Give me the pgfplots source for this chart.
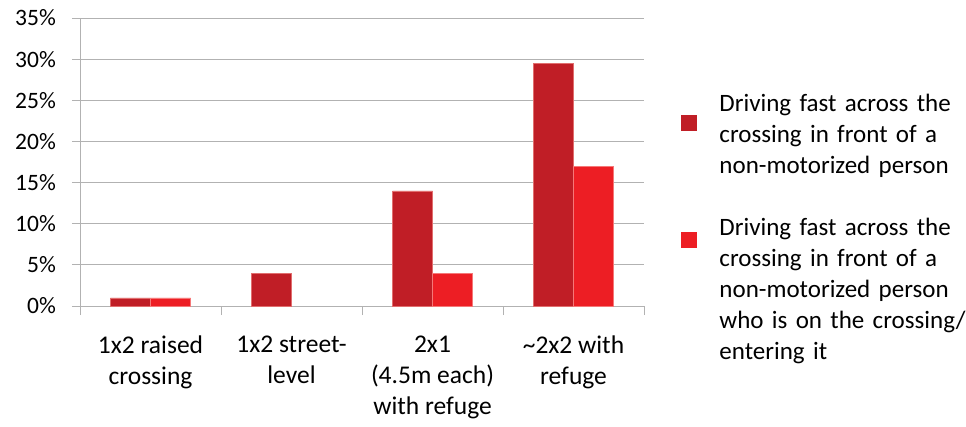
\documentclass[border=0pt]{standalone}
\usepackage{pgfplots}
\pgfplotsset{compat=1.18}
\usepackage{fontspec}
\setmainfont{Carlito}
\definecolor{darkred}{RGB}{192,30,38}
\definecolor{brightred}{RGB}{237,30,36}
\definecolor{gridgray}{RGB}{178,178,178}
\begin{document}
\begin{tikzpicture}[font=\fontsize{25}{31}\selectfont]
\begin{axis}[
  scale only axis,
  width=564pt, height=288pt,
  ybar=0pt, bar width=40pt,
  xmin=-0.5, xmax=3.5,
  ymin=0, ymax=35,
  xtick={0,1,2,3},
  xticklabels={{1x2 raised\\crossing},{1x2 street-\\level},{2x1\\(4.5m each)\\with refuge},{\textasciitilde2x2 with\\refuge}},
  minor xtick={-0.5,0.5,1.5,2.5,3.5},
  ytick={0,5,...,35},
  yticklabel={\pgfmathprintnumber{\tick}\%},
  /pgf/number format/assume math mode=true,
  axis x line*=bottom, axis y line*=left,
  axis line style={gridgray, line width=0.8pt, -},
  ymajorgrids, major grid style={gridgray, line width=0.8pt},
  tick align=outside,
  major x tick style={draw=none},
  minor x tick style={gridgray, line width=0.8pt},
  minor tick length=9pt,
  major y tick style={gridgray, line width=0.8pt},
  major tick length=8pt,
  xticklabel style={align=center, inner sep=0pt, yshift=-22pt, font=\fontsize{25.5}{31}\selectfont},
  yticklabel style={inner sep=0pt, xshift=-16pt, font=\fontsize{23.5}{31}\selectfont},
  legend style={draw=none, fill=none, inner sep=0pt, outer sep=0pt,
    anchor=north west, at={(axis description cs:1.0656,0.736)},
    row sep=88pt, column sep=0pt,
    nodes={inner sep=0pt},
    cells={anchor=west, align=left, text width=260pt}},
  legend cell align=left,
  /tikz/every odd column/.append style={column sep=23pt},
  clip=false,
]
\addplot[fill=darkred, draw={rgb,255:red,225;green,110;blue,110}, line width=0.5pt,
  legend image code/.code={\fill[darkred] (0pt,-26.5pt) rectangle (15pt,-11.5pt);}]
  coordinates {(0,1) (1,4) (2,14) (3,29.5)};
\addplot[fill=brightred, draw={rgb,255:red,245;green,120;blue,120}, line width=0.5pt,
  legend image code/.code={\fill[brightred] (0pt,-19.5pt) rectangle (15pt,-4.5pt);}]
  coordinates {(0,1) (2,4) (3,17)};
\legend{{Driving fast across the\\crossing in front of a\\non-motorized person},
        {Driving fast across the\\crossing in front of a\\non-motorized person\\who is on the crossing/\\entering it}}
\coordinate (o) at (rel axis cs:0,0);
\end{axis}
\pgfresetboundingbox
\path (o) ++(-80pt,-120pt) rectangle ++(966pt,426pt);
\end{tikzpicture}
\end{document}
